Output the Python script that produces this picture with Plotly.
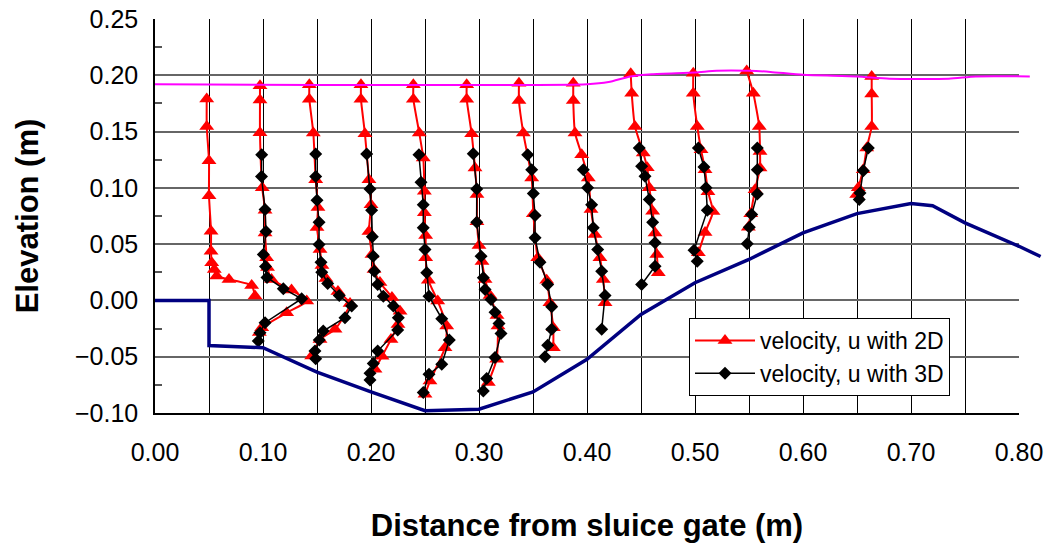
import plotly.graph_objects as go

# ---------------- data ----------------
x_tick_vals = [0.00, 0.05, 0.10, 0.15, 0.20, 0.25, 0.30, 0.35, 0.40, 0.45, 0.50, 0.55, 0.60, 0.65, 0.70, 0.75, 0.80]
x_tick_text = ["0.00", "", "0.10", "", "0.20", "", "0.30", "", "0.40", "", "0.50", "", "0.60", "", "0.70", "", "0.80"]

# 2D velocity profiles (plotted position x, elevation y), one list per station
u2d_x = [
    [0.0479, 0.0479, 0.0500, 0.0500, 0.0519, 0.0519, 0.0525, 0.0549, 0.0571, 0.0685, 0.0895, 0.0926],
    [0.0972, 0.0972, 0.0972, 0.0993, 0.1019, 0.1019, 0.1034, 0.1042, 0.1079, 0.1264, 0.1405, 0.1219, 0.0988, 0.0966],
    [0.1429, 0.1429, 0.1466, 0.1488, 0.1509, 0.1500, 0.1528, 0.1546, 0.1583, 0.1694, 0.1806, 0.1667, 0.1528, 0.1451],
    [0.1907, 0.1907, 0.1944, 0.1981, 0.2000, 0.1981, 0.2009, 0.2028, 0.2083, 0.2194, 0.2269, 0.2250, 0.2185, 0.2102, 0.2037],
    [0.2392, 0.2392, 0.2447, 0.2484, 0.2494, 0.2494, 0.2506, 0.2506, 0.2531, 0.2618, 0.2701, 0.2685, 0.2546, 0.2500],
    [0.2886, 0.2886, 0.2932, 0.2963, 0.2981, 0.2981, 0.3000, 0.3028, 0.3056, 0.3102, 0.3167, 0.3176, 0.3164, 0.3086],
    [0.3370, 0.3370, 0.3410, 0.3488, 0.3503, 0.3544, 0.3627, 0.3657, 0.3688, 0.3688],
    [0.3873, 0.3873, 0.3889, 0.3951, 0.4012, 0.4037, 0.4074, 0.4120, 0.4151, 0.4167],
    [0.4405, 0.4414, 0.4444, 0.4521, 0.4558, 0.4577, 0.4608, 0.4630, 0.4646, 0.4660],
    [0.4984, 0.4984, 0.5021, 0.5056, 0.5093, 0.5120, 0.5167, 0.5093, 0.5031],
    [0.5479, 0.5540, 0.5595, 0.5602, 0.5602, 0.5556, 0.5516, 0.5494],
    [0.6636, 0.6636, 0.6636, 0.6590, 0.6558, 0.6512, 0.6497],
]
u2d_y = [
    [0.1790, 0.1545, 0.1240, 0.0930, 0.0614, 0.0437, 0.0334, 0.0275, 0.0216, 0.0186, 0.0133, 0.0040],
    [0.1906, 0.1780, 0.1490, 0.1000, 0.0800, 0.0600, 0.0379, 0.0293, 0.0186, 0.0092, -0.0006, -0.0109, -0.0242, -0.0284],
    [0.1915, 0.1788, 0.1487, 0.1073, 0.0825, 0.0647, 0.0452, 0.0310, 0.0195, 0.0080, -0.0027, -0.0257, -0.0346, -0.0494],
    [0.1915, 0.1788, 0.1480, 0.1073, 0.0850, 0.0612, 0.0408, 0.0275, 0.0160, 0.0027, -0.0097, -0.0213, -0.0346, -0.0496, -0.0612],
    [0.1915, 0.1788, 0.1487, 0.1265, 0.0969, 0.0778, 0.0576, 0.0379, 0.0180, -0.0006, -0.0228, -0.0420, -0.0716, -0.0833],
    [0.1915, 0.1788, 0.1480, 0.1176, 0.0940, 0.0700, 0.0488, 0.0346, 0.0186, 0.0044, -0.0133, -0.0228, -0.0523, -0.0730],
    [0.1930, 0.1776, 0.1487, 0.1088, 0.0771, 0.0379, 0.0180, -0.0021, -0.0242, -0.0420],
    [0.1930, 0.1776, 0.1487, 0.1294, 0.1088, 0.0807, 0.0585, 0.0379, 0.0186, -0.0021],
    [0.2013, 0.1841, 0.1545, 0.1310, 0.1179, 0.1002, 0.0792, 0.0600, 0.0408, 0.0246],
    [0.2019, 0.1841, 0.1545, 0.1339, 0.1161, 0.0966, 0.0789, 0.0603, 0.0423],
    [0.2039, 0.1841, 0.1545, 0.1324, 0.1176, 0.0984, 0.0769, 0.0650],
    [0.1989, 0.1833, 0.1545, 0.1354, 0.1161, 0.1000, 0.0940],
]

# 3D velocity profiles
u3d_x = [
    [0.0988, 0.0986, 0.1019, 0.1028, 0.1003, 0.1023, 0.1037, 0.1188, 0.1358, 0.1019, 0.0972, 0.0956],
    [0.1488, 0.1488, 0.1500, 0.1519, 0.1519, 0.1537, 0.1544, 0.1599, 0.1706, 0.1821, 0.1759, 0.1558, 0.1521, 0.1481, 0.1488],
    [0.1960, 0.1991, 0.2006, 0.2012, 0.2021, 0.2031, 0.2062, 0.2114, 0.2207, 0.2253, 0.2247, 0.2062, 0.2021, 0.1991, 0.1991],
    [0.2444, 0.2463, 0.2484, 0.2484, 0.2500, 0.2516, 0.2537, 0.2655, 0.2725, 0.2655, 0.2537, 0.2484],
    [0.2947, 0.2979, 0.2979, 0.3019, 0.3040, 0.3056, 0.3111, 0.3148, 0.3185, 0.3204, 0.3148, 0.3071, 0.3040],
    [0.3451, 0.3488, 0.3503, 0.3519, 0.3519, 0.3565, 0.3636, 0.3673, 0.3673, 0.3636, 0.3611],
    [0.3966, 0.4006, 0.4043, 0.4058, 0.4099, 0.4136, 0.4167, 0.4136],
    [0.4484, 0.4506, 0.4537, 0.4577, 0.4608, 0.4630, 0.4630, 0.4506],
    [0.5031, 0.5083, 0.5102, 0.5114, 0.4991, 0.5021],
    [0.5577, 0.5577, 0.5577, 0.5525, 0.5503, 0.5484],
    [0.6605, 0.6558, 0.6528, 0.6521],
]
u3d_y = [
    [0.1294, 0.1100, 0.0807, 0.0612, 0.0408, 0.0302, 0.0204, 0.0104, 0.0015, -0.0198, -0.0287, -0.0360],
    [0.1300, 0.1100, 0.0890, 0.0694, 0.0496, 0.0340, 0.0251, 0.0151, 0.0044, -0.0050, -0.0153, -0.0272, -0.0352, -0.0450, -0.0517],
    [0.1300, 0.0990, 0.0800, 0.0565, 0.0393, 0.0260, 0.0142, 0.0038, -0.0050, -0.0153, -0.0263, -0.0450, -0.0561, -0.0647, -0.0707],
    [0.1294, 0.1049, 0.0851, 0.0645, 0.0452, 0.0246, 0.0038, -0.0162, -0.0352, -0.0567, -0.0656, -0.0818],
    [0.1303, 0.0990, 0.0694, 0.0393, 0.0201, 0.0098, 0.0009, -0.0104, -0.0204, -0.0293, -0.0508, -0.0694, -0.0804],
    [0.1294, 0.1161, 0.0949, 0.0754, 0.0556, 0.0340, 0.0142, -0.0056, -0.0257, -0.0399, -0.0500],
    [0.1161, 0.1000, 0.0851, 0.0645, 0.0452, 0.0260, 0.0044, -0.0257],
    [0.1354, 0.1191, 0.1102, 0.0896, 0.0694, 0.0512, 0.0304, 0.0142],
    [0.1354, 0.1185, 0.1000, 0.0800, 0.0446, 0.0348],
    [0.1354, 0.1161, 0.0946, 0.0763, 0.0650, 0.0503],
    [0.1354, 0.1153, 0.0955, 0.0896],
]

# channel bed
bed_x = [0.00, 0.05, 0.05, 0.10, 0.15, 0.20, 0.25, 0.30, 0.35, 0.40, 0.45, 0.50, 0.55, 0.60, 0.65, 0.70, 0.72, 0.75, 0.80, 0.82]
bed_y = [0.000, 0.000, -0.040, -0.042, -0.0636, -0.0813, -0.098, -0.0966, -0.0813, -0.0523, -0.0124, 0.0157, 0.0364, 0.060, 0.0771, 0.086, 0.0842, 0.0689, 0.0481, 0.039]

# free water surface
surf_x = [0.00, 0.40, 0.42, 0.44, 0.46, 0.50, 0.52, 0.55, 0.57, 0.60, 0.65, 0.68, 0.735, 0.76, 0.81]
surf_y = [0.192, 0.192, 0.194, 0.199, 0.201, 0.2025, 0.204, 0.204, 0.203, 0.2004, 0.199, 0.197, 0.197, 0.199, 0.199]


def join(groups):
    out = []
    for i, g in enumerate(groups):
        if i:
            out.append(None)
        out.extend(g)
    return out


FONT = "Liberation Sans, Arial, sans-serif"

fig = go.Figure()
fig.add_trace(go.Scatter(x=join(u2d_x), y=join(u2d_y), mode="lines+markers",
                         name="velocity, u with 2D",
                         line=dict(color="#FF0000", width=2, shape="spline", smoothing=0.5),
                         marker=dict(symbol="triangle-up", size=13, color="#FF0000")))
fig.add_trace(go.Scatter(x=join(u3d_x), y=join(u3d_y), mode="lines+markers",
                         name="velocity, u with 3D",
                         line=dict(color="#000000", width=1.5),
                         marker=dict(symbol="diamond", size=10, color="#000000")))
# bed and free surface extend a little past the right frame, as in the original
fig.add_trace(go.Scatter(x=bed_x, y=bed_y, mode="lines", xaxis="x2", yaxis="y2",
                         line=dict(color="#000080", width=3.5), showlegend=False))
fig.add_trace(go.Scatter(x=surf_x, y=surf_y, mode="lines", xaxis="x2", yaxis="y2",
                         line=dict(color="#FF00FF", width=2, shape="spline", smoothing=0.6),
                         showlegend=False))

W, H = 1052, 548
L, R, T, B = 155, 7, 19, 135
plot_w = W - L - R
plot_h = H - T - B
main_right = 1019
dom_end = (main_right - L) / plot_w

fig.update_layout(
    width=W, height=H,
    margin=dict(l=L, r=R, t=T, b=B, autoexpand=False),
    paper_bgcolor="white", plot_bgcolor="rgba(0,0,0,0)",
    font=dict(family=FONT, color="black"),
    xaxis=dict(domain=[0, dom_end], range=[0, 0.8], anchor="y", automargin=False,
               tickmode="array", tickvals=x_tick_vals, ticktext=x_tick_text,
               showgrid=True, gridcolor="black", gridwidth=1,
               showline=True, linecolor="black", linewidth=1.5,
               ticks="", ticklabelstandoff=16, zeroline=False,
               tickfont=dict(size=25, family=FONT),
               title=dict(text="<b>Distance from sluice gate (m)</b>", standoff=50,
                          font=dict(size=31, family=FONT))),
    yaxis=dict(domain=[0, 1], range=[-0.1, 0.25], anchor="x", automargin=False,
               dtick=0.05, tick0=0, tickformat=".2f",
               showgrid=True, gridcolor="#666666", gridwidth=1.5,
               showline=True, linecolor="black", linewidth=1.5,
               ticks="", ticklabelstandoff=10, zeroline=False,
               tickfont=dict(size=25, family=FONT),
               minor=dict(dtick=0.025, ticks="inside", ticklen=7, tickcolor="#555555", tickwidth=1.5),
               title=dict(text="<b>Elevation (m)</b>", standoff=27,
                          font=dict(size=31, family=FONT))),
    xaxis2=dict(domain=[0, 1], range=[0, 0.8 / dom_end], anchor="y2", visible=False, automargin=False),
    yaxis2=dict(domain=[0, 1], range=[-0.1, 0.25], anchor="x2", visible=False, automargin=False),
    legend=dict(x=(689 - L) / plot_w, y=(H - B - 318) / plot_h, xanchor="left", yanchor="top",
                bgcolor="white", bordercolor="black", borderwidth=1,
                font=dict(size=23, family=FONT), itemwidth=60, tracegroupgap=0),
)

fig.write_html("out.html")
